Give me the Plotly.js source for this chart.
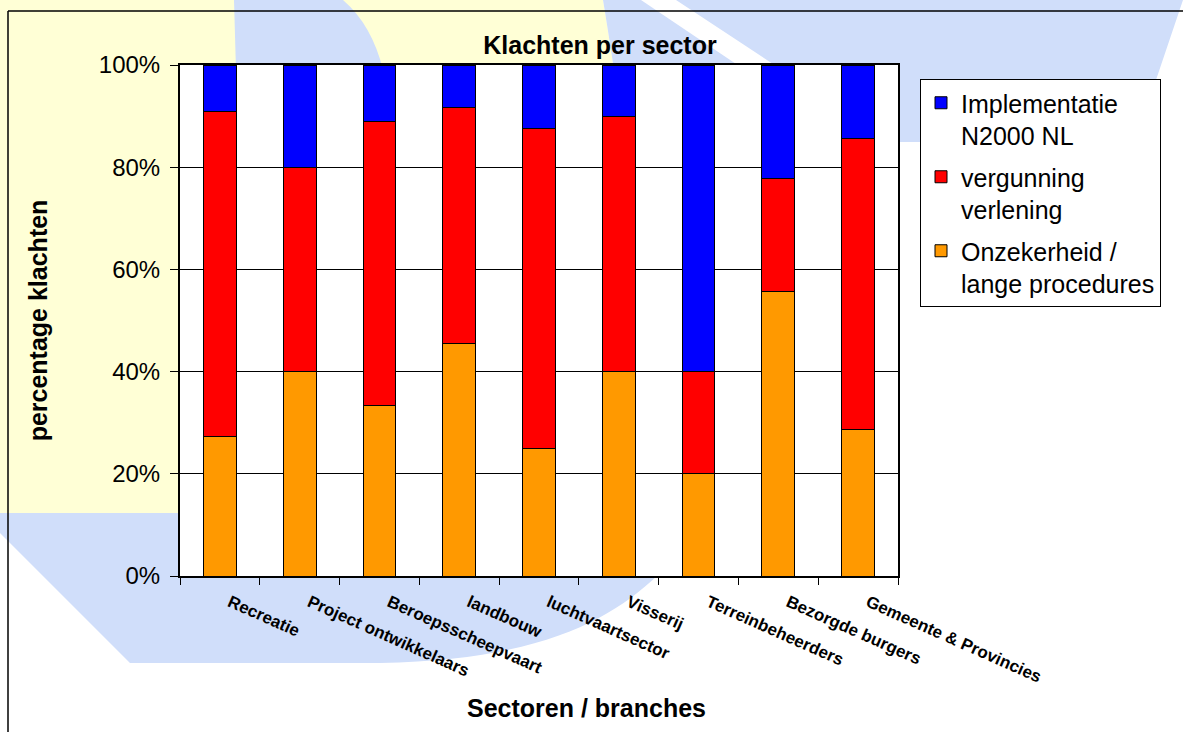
<!DOCTYPE html>
<html>
<head>
<meta charset="utf-8">
<script src="https://cdn.plot.ly/plotly-3.0.1.min.js"></script>
<style>
  html, body { margin: 0; padding: 0; background: #ffffff; }
  #chart { width: 1183px; height: 732px; }
</style>
</head>
<body>
<div id="chart"></div>
<script>
// ---- Data (percentages per sector) ----
const categories = ['Recreatie', 'Project ontwikkelaars', 'Beroepsscheepvaart', 'landbouw',
  'luchtvaartsector', 'Visserij', 'Terreinbeheerders', 'Bezorgde burgers', 'Gemeente & Provincies'];
const onzekerheid   = [27.3, 40.0, 33.3, 45.5, 25.0, 40.0, 20.0, 55.6, 28.6];
const vergunning    = [63.6, 40.0, 55.6, 46.2, 62.5, 50.0, 20.0, 22.2, 57.1];
const implementatie = [ 9.1, 20.0, 11.1,  8.3, 12.5, 10.0, 60.0, 22.2, 14.3];
const seriesNames = ['Onzekerheid /<br>lange procedures', 'vergunning<br>verlening', 'Implementatie<br>N2000 NL'];
const yTickVals = [0, 20, 40, 60, 80, 100];
const yTickText = ['0%', '20%', '40%', '60%', '80%', '100%'];
const chartTitle = 'Klachten per sector';
const yTitle = 'percentage klachten';
const xTitle = 'Sectoren / branches';

// ---- Layout geometry ----
const W = 1183, H = 732;
const M = { l: 180, r: 285, t: 65, b: 156 };
const PW = W - M.l - M.r, PH = H - M.t - M.b;
const FONT = 'Arial, "Liberation Sans", sans-serif';
const px = x => (x - M.l) / PW;
const py = y => (M.t + PH - y) / PH;
function path(cmds) {
  return cmds.map(c => {
    const op = c[0];
    const pts = [];
    for (let i = 1; i < c.length; i += 2) pts.push(px(c[i]).toFixed(5) + ',' + py(c[i + 1]).toFixed(5));
    return op + pts.join(' ');
  }).join(' ') + ' Z';
}

const YEL = '#FFFFD6', BLU = '#D0DEFA';
const bgShape = (d, color) => ({ type: 'path', xref: 'paper', yref: 'paper', path: d,
  fillcolor: color, line: { width: 0 }, layer: 'below' });

const shapes = [
  // pale yellow watermark
  bgShape(path([['M', 0, 0], ['L', 603, 0], ['Q', 608, 30, 614, 70], ['L', 614, 513], ['L', 0, 513]]), YEL),
  // blue drop top-left
  bgShape(path([['M', 234, 0], ['L', 343, 0], ['Q', 372, 25, 383, 70], ['L', 236, 70]]), BLU),
  // thin blue wedge
  bgShape(path([['M', 603, 0], ['L', 641, 0], ['L', 745, 70], ['L', 614, 70], ['Q', 608, 30, 603, 0]]), BLU),
  // blue top-right
  bgShape(path([['M', 676, 0], ['L', 1183, 0], ['L', 1156, 80], ['L', 1133, 142], ['L', 898, 142], ['L', 898, 70], ['L', 782, 70]]), BLU),
  // blue bottom band
  bgShape(path([['M', 0, 513], ['L', 200, 513], ['L', 200, 576], ['L', 657, 576], ['C', 610, 620, 540, 660, 380, 663], ['L', 130, 663], ['L', 0, 533]]), BLU),
  // white plot area
  { type: 'rect', xref: 'paper', yref: 'paper', x0: 0, x1: 1, y0: 0, y1: 1,
    fillcolor: '#ffffff', line: { width: 0 }, layer: 'below' },
  // outer chart frame
  { type: 'line', xref: 'paper', yref: 'paper', x0: px(8), x1: px(1190), y0: py(11), y1: py(11),
    line: { color: '#000000', width: 1.5 }, layer: 'below' },
  { type: 'line', xref: 'paper', yref: 'paper', x0: px(8), x1: px(8), y0: py(11), y1: py(740),
    line: { color: '#000000', width: 1.5 }, layer: 'below' }
];

const barLine = { color: '#000000', width: 1 };
const traces = [
  { type: 'bar', name: seriesNames[0], x: categories, y: onzekerheid, legendgroup: 'c', legendrank: 3,
    marker: { color: '#FF9900', line: barLine }, hoverinfo: 'x+y' },
  { type: 'bar', name: seriesNames[1], x: categories, y: vergunning, legendgroup: 'b', legendrank: 2,
    marker: { color: '#FF0000', line: barLine }, hoverinfo: 'x+y' },
  { type: 'bar', name: seriesNames[2], x: categories, y: implementatie, legendgroup: 'a', legendrank: 1,
    marker: { color: '#0000FF', line: barLine }, hoverinfo: 'x+y' }
];

const layout = {
  width: W, height: H,
  margin: M,
  paper_bgcolor: 'rgba(0,0,0,0)',
  plot_bgcolor: 'rgba(0,0,0,0)',
  font: { family: FONT, color: '#000000' },
  barmode: 'stack',
  bargap: 0.59,
  title: { text: '<b>' + chartTitle + '</b>', font: { family: FONT, size: 25, color: '#000' },
    xref: 'container', x: 600 / W, xanchor: 'center', yref: 'container', y: 1 - 45 / H, yanchor: 'middle' },
  xaxis: {
    type: 'category',
    showline: true, mirror: true, linecolor: '#000', linewidth: 2,
    ticks: 'outside', tickson: 'boundaries', ticklen: 7, tickcolor: '#000', tickwidth: 1,
    tickangle: 24, ticklabelstandoff: 8, ticklabelshift: 10,
    tickfont: { family: FONT, size: 17, weight: 'bold', color: '#000' },
    showgrid: false, automargin: false, fixedrange: true
  },
  yaxis: {
    range: [0, 100],
    tickvals: yTickVals, ticktext: yTickText,
    showline: true, mirror: true, linecolor: '#000', linewidth: 2,
    ticks: 'outside', ticklen: 8, tickcolor: '#000', tickwidth: 1, ticklabelstandoff: 5,
    tickfont: { family: FONT, size: 24, color: '#000' },
    showgrid: true, gridcolor: '#000', gridwidth: 1,
    zeroline: false, automargin: false, fixedrange: true,
    title: { text: '<b>' + yTitle + '</b>', font: { family: FONT, size: 25, color: '#000' }, standoff: 44 }
  },
  legend: {
    x: px(920), y: py(79), xanchor: 'left', yanchor: 'top',
    bgcolor: '#ffffff', bordercolor: '#000000', borderwidth: 1,
    font: { family: FONT, size: 25, color: '#000' },
    traceorder: 'grouped', tracegroupgap: 6, valign: 'top'
  },
  annotations: [
    { text: '<b>' + xTitle + '</b>', xref: 'paper', yref: 'paper', x: px(586), y: py(708),
      xanchor: 'center', yanchor: 'middle', showarrow: false,
      font: { family: FONT, size: 25, color: '#000' } }
  ],
  shapes: shapes,
  showlegend: true
};

Plotly.newPlot('chart', traces, layout, { displayModeBar: false, staticPlot: true });
</script>
</body>
</html>
